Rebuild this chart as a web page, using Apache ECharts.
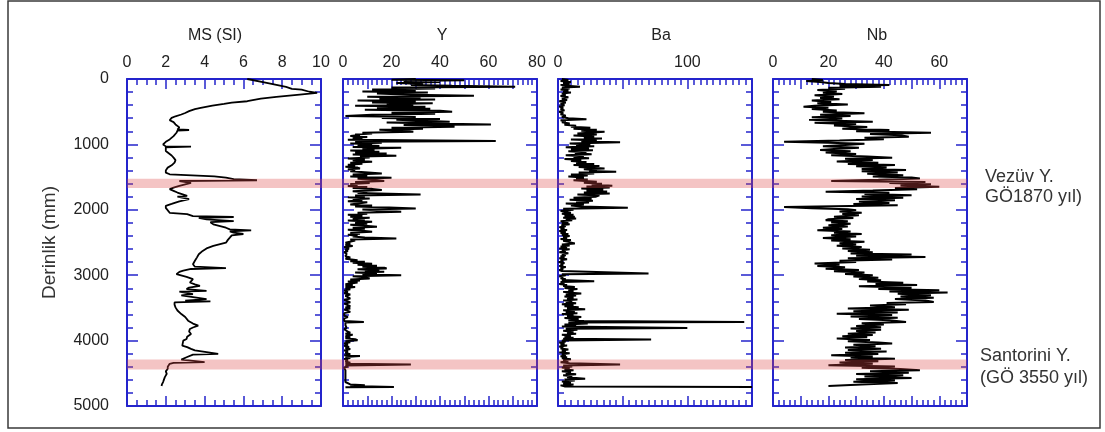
<!DOCTYPE html>
<html>
<head>
<meta charset="utf-8">
<script src="https://cdn.jsdelivr.net/npm/echarts@6/dist/echarts.min.js"></script>
<style>
html,body{margin:0;padding:0;background:#fff;}
#chart{width:1105px;height:432px;}
</style>
</head>
<body>
<div id="chart"></div>
<script>
// ---------- DATA (depth in mm, value) ----------
const panelTitles = ['MS (SI)', 'Y', 'Ba', 'Nb'];
const depthTicks = [0, 1000, 2000, 3000, 4000, 5000];
const msLabels = [0, 2, 4, 6, 8, 10];
const yLabels = [0, 20, 40, 60, 80];
const baLabels = [0, 100];
const nbLabels = [0, 20, 40, 60];
const bandRanges = [[1525, 1665], [4290, 4440]];
const annotations = [['Vezüv Y.', 'GÖ1870 yıl)'], ['Santorini Y.', '(GÖ 3550 yıl)']];

const msData = [
[0,6.2],[61,7.2],[122,8.2],[150,8.5],[162,9.0],[175,8.9],[195,9.4],[213,9.8],[239,8.9],[274,7.7],[300,6.9],[340,6.2],[360,5.4],[380,5.0],[406,4.4],[441,3.8],[460,3.5],[492,3.2],[520,3.0],[543,2.8],[570,2.5],[594,2.3],[630,2.2],[660,2.4],[695,2.5],[740,2.7],[772,2.6],[780,3.2],[790,2.6],[822,2.55],[850,2.6],[873,2.4],[924,2.2],[960,2.0],[1000,1.86],[1030,2.0],[1035,3.3],[1045,2.0],[1066,1.95],[1100,2.0],[1127,2.1],[1170,2.3],[1203,2.4],[1240,2.5],[1279,2.45],[1320,2.3],[1355,2.1],[1400,2.0],[1431,2.0],[1457,2.2],[1490,4.5],[1508,5.1],[1530,5.5],[1548,6.7],[1560,2.7],[1574,2.7],[1590,3.3],[1609,3.3],[1634,2.7],[1660,2.4],[1685,2.2],[1710,2.4],[1736,2.6],[1760,2.7],[1787,3.1],[1800,2.6],[1822,2.6],[1835,3.2],[1853,3.2],[1870,2.7],[1888,2.6],[1910,2.3],[1939,2.0],[1970,2.0],[2000,2.0],[2046,2.2],[2066,3.1],[2096,3.4],[2110,5.5],[2125,3.7],[2147,4.1],[2173,5.5],[2190,4.3],[2223,4.45],[2250,4.8],[2274,5.1],[2300,5.3],[2315,6.4],[2330,5.3],[2350,5.5],[2370,6.0],[2390,5.4],[2426,5.3],[2460,5.2],[2503,5.1],[2553,4.45],[2590,4.1],[2629,3.9],[2680,3.7],[2731,3.6],[2780,3.5],[2832,3.4],[2870,3.5],[2893,5.1],[2905,3.3],[2930,2.9],[2949,2.7],[2985,2.55],[3025,3.07],[3061,3.4],[3090,3.3],[3112,3.24],[3140,3.5],[3162,3.76],[3190,3.2],[3213,3.07],[3239,4.1],[3250,2.7],[3264,2.7],[3289,3.4],[3310,2.8],[3330,2.7],[3365,4.1],[3390,3.0],[3400,4.3],[3416,2.45],[3450,2.45],[3492,2.5],[3540,2.6],[3594,2.8],[3640,3.0],[3695,3.15],[3740,3.4],[3772,3.67],[3800,3.4],[3822,3.24],[3860,3.2],[3898,3.3],[3940,3.1],[3975,3.07],[4000,2.9],[4025,2.8],[4076,2.85],[4100,3.1],[4127,3.3],[4150,3.5],[4178,3.6],[4203,4.7],[4215,3.4],[4254,3.07],[4290,2.8],[4315,2.7],[4330,4.0],[4340,2.4],[4355,2.2],[4400,2.1],[4431,2.1],[4470,2.0],[4508,2.05],[4558,1.95],[4600,1.9],[4634,1.86],[4670,1.8],[4695,1.78]
];

const yData = [
[0,30],[10,20],[20,50],[30,25],[45,40],[60,22],[75,33],[90,28],[105,45],[117,71],[130,20],[145,38],[160,12],[175,30],[190,8],[205,35],[220,14],[240,28],[255,54],[270,10],[285,32],[300,15],[315,38],[330,6],[345,30],[360,12],[372,37],[385,18],[400,29],[410,5],[423,34],[440,14],[455,36],[470,9],[485,40],[500,45],[515,20],[530,38],[545,12],[566,1],[580,30],[595,16],[610,40],[625,22],[640,33],[653,44],[665,18],[680,37],[694,61],[705,25],[718,42],[730,46],[745,20],[760,33],[775,15],[790,26],[806,29],[820,8],[835,12],[850,5],[857,7],[870,3],[885,10],[900,4],[915,8],[930,2],[949,63],[960,5],[974,16],[985,3],[995,12],[1010,6],[1025,15],[1040,4],[1051,24],[1065,8],[1080,13],[1095,3],[1112,15],[1125,5],[1140,18],[1155,4],[1173,22],[1185,7],[1200,11],[1215,2],[1230,9],[1245,4],[1265,12],[1280,3],[1295,8],[1310,2],[1325,5],[1340,1],[1355,6],[1367,7],[1380,2],[1395,5],[1410,3],[1425,9],[1444,16],[1460,4],[1475,10],[1490,3],[1510,20],[1525,6],[1540,12],[1561,17],[1575,5],[1590,11],[1605,3],[1620,6],[1635,2],[1650,10],[1665,4],[1680,12],[1699,16],[1715,4],[1730,10],[1745,6],[1765,32],[1780,5],[1795,9],[1810,2],[1827,11],[1840,4],[1855,8],[1870,2],[1885,10],[1903,10],[1920,3],[1935,12],[1950,5],[1965,19],[1980,30],[1995,8],[2010,14],[2031,24],[2045,6],[2060,10],[2075,2],[2090,8],[2105,3],[2120,11],[2135,4],[2150,9],[2165,2],[2184,12],[2200,5],[2215,10],[2230,3],[2245,9],[2260,14],[2275,4],[2290,9],[2305,2],[2320,8],[2337,12],[2350,3],[2365,7],[2380,2],[2395,6],[2410,4],[2425,9],[2439,22],[2455,3],[2470,5],[2490,5],[2505,1],[2520,3],[2540,1],[2555,4],[2570,0.5],[2592,2.5],[2610,1],[2630,2],[2650,0.5],[2670,1.5],[2694,2],[2710,1],[2730,3],[2750,1],[2770,6],[2785,3],[2796,9],[2810,4],[2825,12],[2840,6],[2855,14],[2870,8],[2885,17],[2898,18],[2910,6],[2925,15],[2935,9],[2949,17],[2960,5],[2975,14],[2990,8],[3000,24],[3015,4],[3030,9],[3051,11],[3065,3],[3080,7],[3095,2],[3110,6],[3128,6],[3140,1],[3155,4],[3170,1],[3179,5],[3195,1],[3215,3],[3235,0.5],[3255,2],[3275,0.5],[3295,3],[3315,1],[3335,2],[3357,3],[3375,0.5],[3395,1],[3415,3],[3435,0.5],[3455,1],[3475,3],[3495,1],[3510,3],[3525,0.5],[3545,1],[3561,3],[3580,0.5],[3600,1],[3620,0.5],[3640,2],[3660,0.5],[3680,1],[3700,0.5],[3714,8.6],[3725,1],[3745,0.5],[3765,1],[3785,0.5],[3805,1.5],[3825,0.5],[3845,1],[3865,2],[3880,3],[3895,1],[3910,4],[3918,2.5],[3935,1],[3950,3],[3965,1],[3980,5],[3995,6],[4010,1],[4025,3],[4040,0.5],[4060,2],[4080,0.5],[4097,2.5],[4115,1],[4130,3],[4150,0.5],[4170,2],[4190,1],[4210,3],[4225,0.5],[4235,7],[4250,1],[4265,3],[4280,0.5],[4300,2],[4320,1],[4340,3],[4355,1],[4367,28],[4380,1],[4395,2],[4410,0.5],[4430,1],[4454,1],[4475,0.5],[4500,1],[4525,0.5],[4550,1],[4575,0.5],[4600,1],[4633,1],[4650,0.5],[4670,3],[4684,9],[4695,3],[4709,21],[4715,1]
];

const baData = [
[0,3],[15,8],[30,2],[45,10],[60,4],[75,9],[90,2],[105,7],[117,17],[130,3],[145,9],[160,2],[175,8],[190,4],[205,10],[220,3],[240,6],[260,2],[280,8],[300,3],[320,7],[340,1],[360,6],[380,2],[400,5],[420,1],[440,4],[460,2],[480,5],[500,1],[520,4],[540,2],[560,6],[580,3],[600,8],[617,22],[630,2],[645,6],[660,3],[680,9],[700,5],[715,14],[730,10],[745,25],[760,12],[775,30],[790,18],[805,36],[821,37],[835,15],[850,30],[865,12],[880,28],[895,20],[910,34],[925,10],[940,30],[955,18],[969,48],[985,9],[1000,25],[1015,14],[1030,28],[1045,6],[1060,24],[1075,10],[1090,27],[1105,8],[1120,22],[1135,13],[1150,26],[1165,6],[1180,20],[1195,12],[1210,24],[1225,5],[1240,18],[1255,10],[1270,22],[1285,14],[1300,28],[1315,12],[1330,32],[1345,16],[1367,36],[1380,20],[1395,30],[1405,24],[1418,45],[1430,16],[1445,28],[1460,10],[1475,23],[1490,8],[1505,20],[1520,14],[1535,23],[1550,12],[1571,30],[1585,20],[1600,34],[1615,26],[1633,42],[1645,22],[1660,40],[1675,18],[1690,35],[1705,22],[1720,38],[1735,20],[1750,40],[1765,15],[1780,32],[1801,29],[1815,12],[1830,26],[1845,9],[1860,27],[1875,14],[1890,24],[1905,6],[1920,20],[1935,10],[1950,18],[1969,54],[1985,4],[2000,12],[2015,2],[2031,5],[2045,10],[2060,3],[2075,12],[2090,5],[2105,13],[2120,4],[2133,14],[2145,6],[2160,11],[2175,2],[2190,8],[2205,3],[2220,9],[2235,2.6],[2250,6],[2265,1],[2280,5],[2295,2],[2310,7],[2325,1],[2340,6],[2355,2],[2370,8],[2385,3],[2400,9],[2415,4],[2430,7],[2445,2],[2460,10],[2475,4],[2490,8],[2515,13],[2530,3],[2545,9],[2560,2],[2575,7],[2590,1],[2605,9],[2620,3],[2635,6],[2650,1],[2665,8],[2680,3],[2695,6],[2710,2],[2725,5],[2740,1],[2755,7],[2770,2],[2785,4],[2800,0.5],[2815,5],[2830,2],[2845,4],[2860,1],[2875,6],[2890,2],[2905,4],[2920,1],[2935,3],[2950,2],[2974,70],[2985,3],[3000,6],[3015,1],[3030,4],[3045,2],[3060,6],[3075,3],[3092,28],[3105,2],[3120,5],[3135,1],[3150,7],[3165,4],[3180,13],[3195,5],[3210,15],[3225,8],[3240,12],[3255,4],[3270,10],[3281,18],[3295,6],[3310,14],[3325,5],[3340,12],[3355,7],[3370,15],[3385,4],[3400,11],[3415,6],[3430,14],[3445,3],[3460,12],[3475,5],[3490,16],[3505,7],[3520,21],[3535,4],[3550,13],[3565,6],[3580,15],[3595,3],[3610,12],[3625,7],[3640,18],[3655,5],[3670,16],[3685,8],[3700,20],[3714,144],[3725,8],[3740,23],[3755,5],[3770,14],[3785,3],[3806,100],[3820,6],[3835,15],[3850,4],[3865,12],[3880,7],[3895,14],[3910,3],[3925,10],[3940,5],[3955,12],[3970,4],[3985,72],[4000,3],[4015,6],[4030,1],[4045,5],[4060,2],[4075,7],[4090,1],[4105,4],[4120,2],[4135,8],[4150,3],[4165,6],[4180,1],[4195,9],[4210,3],[4225,6],[4240,2],[4255,7],[4270,3],[4285,10],[4300,4],[4315,8],[4330,2],[4345,9],[4367,48],[4380,4],[4395,11],[4410,3],[4425,9],[4440,5],[4455,12],[4470,3],[4485,10],[4500,6],[4515,14],[4530,4],[4545,11],[4560,7],[4582,21],[4595,5],[4610,13],[4625,3],[4640,10],[4655,4],[4670,12],[4685,2],[4700,5],[4709,150]
];

const nbData = [
[0,14],[15,18],[30,12],[45,17],[60,20],[75,26],[92,42],[105,24],[120,39],[135,20],[150,26],[170,16],[190,23],[210,18],[230,25],[250,15],[270,22],[290,17],[310,24],[330,14],[350,21],[370,16],[390,27],[410,15],[423,11],[440,20],[460,14],[480,23],[500,18],[525,33],[545,17],[565,28],[585,14],[605,25],[625,13],[653,36],[670,15],[690,30],[710,22],[735,34],[760,25],[780,42],[800,30],[821,57],[840,35],[860,46],[883,49],[900,33],[920,40],[940,24],[959,4],[975,20],[990,33],[1010,26],[1030,18],[1050,31],[1070,22],[1087,17],[1105,28],[1125,19],[1145,30],[1165,21],[1185,34],[1204,43],[1220,26],[1240,36],[1260,23],[1280,38],[1300,27],[1316,44],[1335,30],[1355,41],[1375,32],[1393,48],[1410,32],[1430,45],[1450,34],[1470,47],[1490,36],[1505,50],[1520,53],[1540,38],[1561,21],[1575,55],[1590,42],[1610,57],[1630,46],[1648,60],[1665,44],[1685,52],[1705,36],[1724,19],[1740,42],[1758,33],[1776,50],[1795,32],[1815,47],[1835,30],[1855,44],[1875,31],[1895,42],[1912,29],[1929,45],[1945,22],[1959,4],[1975,14],[1990,27],[2005,30],[2025,24],[2045,32],[2065,25],[2085,31],[2105,22],[2125,29],[2145,20],[2158,19],[2175,27],[2195,21],[2215,28],[2235,20],[2255,27],[2275,18],[2295,25],[2311,16],[2330,28],[2350,22],[2370,32],[2390,21],[2410,30],[2430,18],[2450,28],[2470,21],[2490,33],[2510,24],[2530,30],[2550,23],[2570,32],[2590,25],[2610,35],[2630,27],[2650,36],[2667,28],[2684,50],[2702,30],[2720,55],[2740,27],[2760,43],[2780,24],[2800,30],[2821,15],[2840,24],[2860,16],[2880,26],[2900,19],[2920,31],[2940,22],[2960,33],[2980,26],[3000,36],[3020,29],[3040,38],[3060,31],[3077,39],[3095,34],[3115,47],[3135,37],[3150,52],[3170,31],[3190,50],[3210,38],[3230,60],[3248,42],[3265,63],[3285,45],[3305,57],[3325,46],[3345,58],[3365,44],[3385,55],[3408,58],[3425,41],[3445,48],[3465,35],[3490,44],[3510,27],[3530,49],[3550,29],[3570,45],[3590,23],[3610,43],[3630,28],[3650,45],[3670,31],[3690,42],[3714,48],[3735,32],[3755,40],[3775,30],[3795,39],[3815,28],[3835,39],[3855,30],[3875,37],[3895,27],[3915,36],[3935,25],[3950,34],[3969,23],[3990,35],[4010,27],[4030,38],[4046,43],[4065,29],[4085,37],[4105,26],[4125,39],[4145,27],[4165,41],[4185,26],[4205,38],[4224,21],[4245,36],[4260,28],[4276,44],[4295,26],[4315,38],[4335,24],[4355,36],[4378,20],[4395,44],[4415,32],[4435,46],[4454,53],[4470,35],[4490,49],[4510,30],[4530,47],[4550,33],[4570,50],[4590,30],[4610,44],[4630,29],[4650,45],[4670,32],[4694,20]
];

// ---------- LAYOUT / STYLE ----------
const FONT = '"Liberation Sans", Arial, sans-serif';
const AXIS_BLUE = '#2424cc';
const panels = [
  {data: msData, min: 0, max: 10, major: 2, minor: 4, labels: msLabels, left: 127, title: 215, lw: 1.8},
  {data: yData, min: 0, max: 80, major: 10, minor: 5, labels: yLabels, left: 343, title: 442, lw: 2},
  {data: baData, min: 0, max: 150, major: 50, minor: 10, labels: baLabels, left: 558, title: 661, lw: 2},
  {data: nbData, min: 0, max: 70, major: 10, minor: 5, labels: nbLabels, left: 773, title: 877, lw: 2}
];
const GRID_TOP = 79, GRID_H = 327, GRID_W = 194;

const grid = [], xAxis = [], yAxis = [], series = [];
panels.forEach((p, i) => {
  grid.push({left: p.left, top: GRID_TOP, width: GRID_W, height: GRID_H, containLabel: false});
  const xBase = {
    type: 'value', gridIndex: i, min: p.min, max: p.max, interval: p.major,
    axisLine: {show: true, onZero: false, lineStyle: {color: AXIS_BLUE, width: 2}},
    axisTick: {show: true, inside: true, length: 10, lineStyle: {color: AXIS_BLUE, width: 1.5}},
    minorTick: {show: true, splitNumber: p.minor, length: 6, lineStyle: {color: AXIS_BLUE, width: 1.5}},
    splitLine: {show: false}
  };
  xAxis.push(Object.assign({}, xBase, {
    position: 'top',
    axisLabel: {show: true, margin: 8, fontSize: 16, color: '#222', fontFamily: FONT,
      formatter: v => p.labels.indexOf(v) >= 0 ? String(v) : ''}
  }));
  xAxis.push(Object.assign({}, xBase, {position: 'bottom', axisLabel: {show: false}}));
  const yBase = {
    type: 'value', gridIndex: i, min: 0, max: 5000, interval: 1000, inverse: true,
    axisLine: {show: true, onZero: false, lineStyle: {color: AXIS_BLUE, width: 2}},
    axisTick: {show: true, inside: true, length: 11, lineStyle: {color: AXIS_BLUE, width: 1.5}},
    minorTick: {show: true, splitNumber: 5, length: 6, lineStyle: {color: AXIS_BLUE, width: 1.5}},
    splitLine: {show: false}
  };
  yAxis.push(Object.assign({}, yBase, {
    position: 'left',
    axisLabel: {show: i === 0, margin: 18, fontSize: 16, color: '#222', fontFamily: FONT,
      formatter: v => depthTicks.indexOf(v) >= 0 ? String(v) : ''},
    name: i === 0 ? 'Derinlik (mm)' : '',
    nameLocation: 'middle', nameGap: 68, nameRotate: 90,
    nameTextStyle: {fontSize: 19, color: '#333', fontFamily: FONT}
  }));
  yAxis.push(Object.assign({}, yBase, {position: 'right', axisLabel: {show: false}}));
  series.push({
    type: 'line', xAxisIndex: i * 2, yAxisIndex: i * 2,
    data: p.data.map(r => [r[1], r[0]]),
    showSymbol: false, symbol: 'none', z: 2, clip: true,
    lineStyle: {color: '#000', width: p.lw}, animation: false
  });
});

// overlay grid spanning all panels, for the highlighted tephra bands
const OV = panels.length;
grid.push({left: panels[0].left, top: GRID_TOP, width: panels[3].left + GRID_W - panels[0].left, height: GRID_H});
xAxis.push({type: 'value', gridIndex: OV, min: 0, max: 1, show: false});
yAxis.push({type: 'value', gridIndex: OV, min: 0, max: 5000, inverse: true, show: false});
series.push({
  type: 'line', xAxisIndex: OV * 2, yAxisIndex: OV * 2, z: 10,
  data: [[0, 0], [1, 0]], showSymbol: false, lineStyle: {opacity: 0},
  markArea: {silent: true, z: 10, itemStyle: {color: 'rgba(222,70,70,0.32)'},
    data: bandRanges.map(b => [{yAxis: b[0]}, {yAxis: b[1]}])}
});

const graphic = [
  {type: 'rect', shape: {x: 8, y: 1, width: 1092, height: 427}, style: {fill: 'none', stroke: '#3a3a3a', lineWidth: 1.5}, z: 0}
];
panels.forEach((p, i) => {
  graphic.push({type: 'text', x: p.title, y: 36, style: {text: panelTitles[i], font: '16px ' + FONT, fill: '#222', textAlign: 'center', textVerticalAlign: 'middle'}});
});
graphic.push({type: 'text', x: 985, y: 177, style: {text: annotations[0][0], font: '18px ' + FONT, fill: '#333', textAlign: 'left', textVerticalAlign: 'middle'}});
graphic.push({type: 'text', x: 985, y: 197, style: {text: annotations[0][1], font: '18px ' + FONT, fill: '#333', textAlign: 'left', textVerticalAlign: 'middle'}});
graphic.push({type: 'text', x: 980, y: 356, style: {text: annotations[1][0], font: '18px ' + FONT, fill: '#333', textAlign: 'left', textVerticalAlign: 'middle'}});
graphic.push({type: 'text', x: 980, y: 378, style: {text: annotations[1][1], font: '18px ' + FONT, fill: '#333', textAlign: 'left', textVerticalAlign: 'middle'}});

const chart = echarts.init(document.getElementById('chart'), null, {renderer: 'canvas'});
chart.setOption({
  animation: false,
  backgroundColor: '#fff',
  textStyle: {fontFamily: FONT},
  grid, xAxis, yAxis, series, graphic
});
</script>
</body>
</html>
